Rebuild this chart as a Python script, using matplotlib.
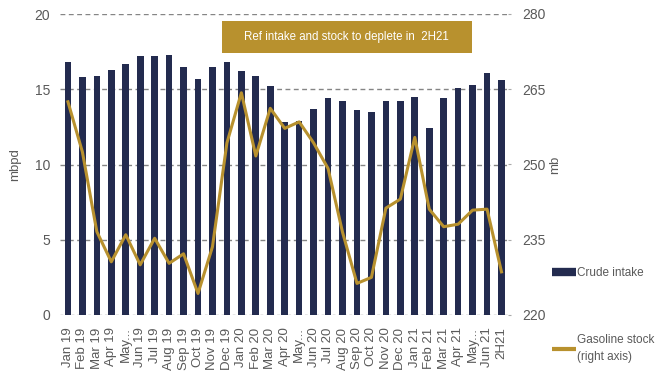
import matplotlib
matplotlib.use("Agg")
import matplotlib.pyplot as plt
from matplotlib.lines import Line2D
from matplotlib.patches import Rectangle

plt.rcParams['font.family'] = ['Liberation Sans', 'DejaVu Sans']

categories = ["Jan 19", "Feb 19", "Mar 19", "Apr 19", "May...", "Jun 19", "Jul 19", "Aug 19",
              "Sep 19", "Oct 19", "Nov 19", "Dec 19", "Jan 20", "Feb 20", "Mar 20", "Apr 20",
              "May...", "Jun 20", "Jul 20", "Aug 20", "Sep 20", "Oct 20", "Nov 20", "Dec 20",
              "Jan 21", "Feb 21", "Mar 21", "Apr 21", "May...", "Jun 21", "2H21"]
crude_intake = [16.8, 15.8, 15.9, 16.3, 16.7, 17.2, 17.2, 17.3, 16.5, 15.7, 16.5, 16.8,
                16.2, 15.9, 15.2, 12.8, 12.9, 13.7, 14.4, 14.2, 13.6, 13.5, 14.2, 14.2,
                14.5, 12.4, 14.4, 15.1, 15.3, 16.1, 15.6]
gasoline_stock = [262.5, 252.5, 236.6, 230.6, 236.0, 230.0, 235.3, 230.3, 232.2, 224.3,
                  233.6, 254.3, 264.3, 251.7, 261.2, 257.2, 258.5, 254.3, 249.2, 236.5,
                  226.3, 227.5, 241.3, 243.1, 255.4, 241.1, 237.6, 238.1, 240.9, 241.1, 228.6]
left_ticks = [0, 5, 10, 15, 20]
right_ticks = [220, 235, 250, 265, 280]

navy = "#232B4F"
gold = "#B8912E"
grey = "#595959"

fig = plt.figure(figsize=(6.7, 3.8), dpi=100)
ax = fig.add_axes([60/670, 1-315/380, 448/670, 301/380])
x = list(range(len(categories)))

for t in left_ticks[1:]:
    ax.axhline(t, color="#858585", lw=1.0, ls=(0, (3.5, 2.5)), zorder=0)
ax.axhline(0, color="#858585", lw=1.0, ls=(0, (2, 2)), zorder=0)

ax.bar(x, crude_intake, width=0.46, color=navy, zorder=2)
ax.set_xlim(-0.55, 30.45)
ax.set_ylim(0, 20)
ax.set_yticks(left_ticks)
ax.set_xticks(x)
ax.set_xticklabels(categories, rotation=90, fontsize=9.5, color=grey)
ax.tick_params(axis="x", length=0, pad=9)
ax.tick_params(axis="y", length=0, labelsize=10, labelcolor=grey, pad=7)
for s in ax.spines.values():
    s.set_visible(False)
ax.set_ylabel("mbpd", fontsize=9.5, color=grey, labelpad=10)

ax2 = ax.twinx()
ax2.plot(x, gasoline_stock, color=gold, lw=2.2, zorder=3)
ax2.set_ylim(220, 280)
ax2.set_yticks(right_ticks)
ax2.tick_params(axis="y", length=2, color="#aaaaaa", labelsize=10, labelcolor=grey, pad=8)
for s in ax2.spines.values():
    s.set_visible(False)
ax2.set_ylabel("mb", fontsize=9.5, color=grey, labelpad=3)

# Title box
fig.patches.append(Rectangle((222/670, 1-53/380), 250/670, 32/380, transform=fig.transFigure,
                             facecolor=gold, edgecolor="none", zorder=5))
fig.text(346/670, 1-37/380, "Ref intake and stock to deplete in  2H21", color="white",
         fontsize=8.3, ha="center", va="center", zorder=6)

leg1 = fig.legend([Line2D([0], [0], color=navy, lw=6, solid_capstyle="butt")], ["Crude intake"],
                  loc="center left", bbox_to_anchor=(552/670, 1-273/380), frameon=False,
                  fontsize=8.5, labelcolor=grey, handlelength=2.0, handletextpad=0.15,
                  borderpad=0, borderaxespad=0)
leg2 = fig.legend([Line2D([0], [0], color=gold, lw=3, solid_capstyle="butt")],
                  ["Gasoline stock\n(right axis)"],
                  loc="upper left", bbox_to_anchor=(552/670, 1-334/380), frameon=False,
                  fontsize=8.5, labelcolor=grey, handlelength=2.0, handletextpad=0.15,
                  borderpad=0, borderaxespad=0)
for t in leg2.get_texts():
    t.set_linespacing(1.6)

fig.savefig("out.png", dpi=100)
